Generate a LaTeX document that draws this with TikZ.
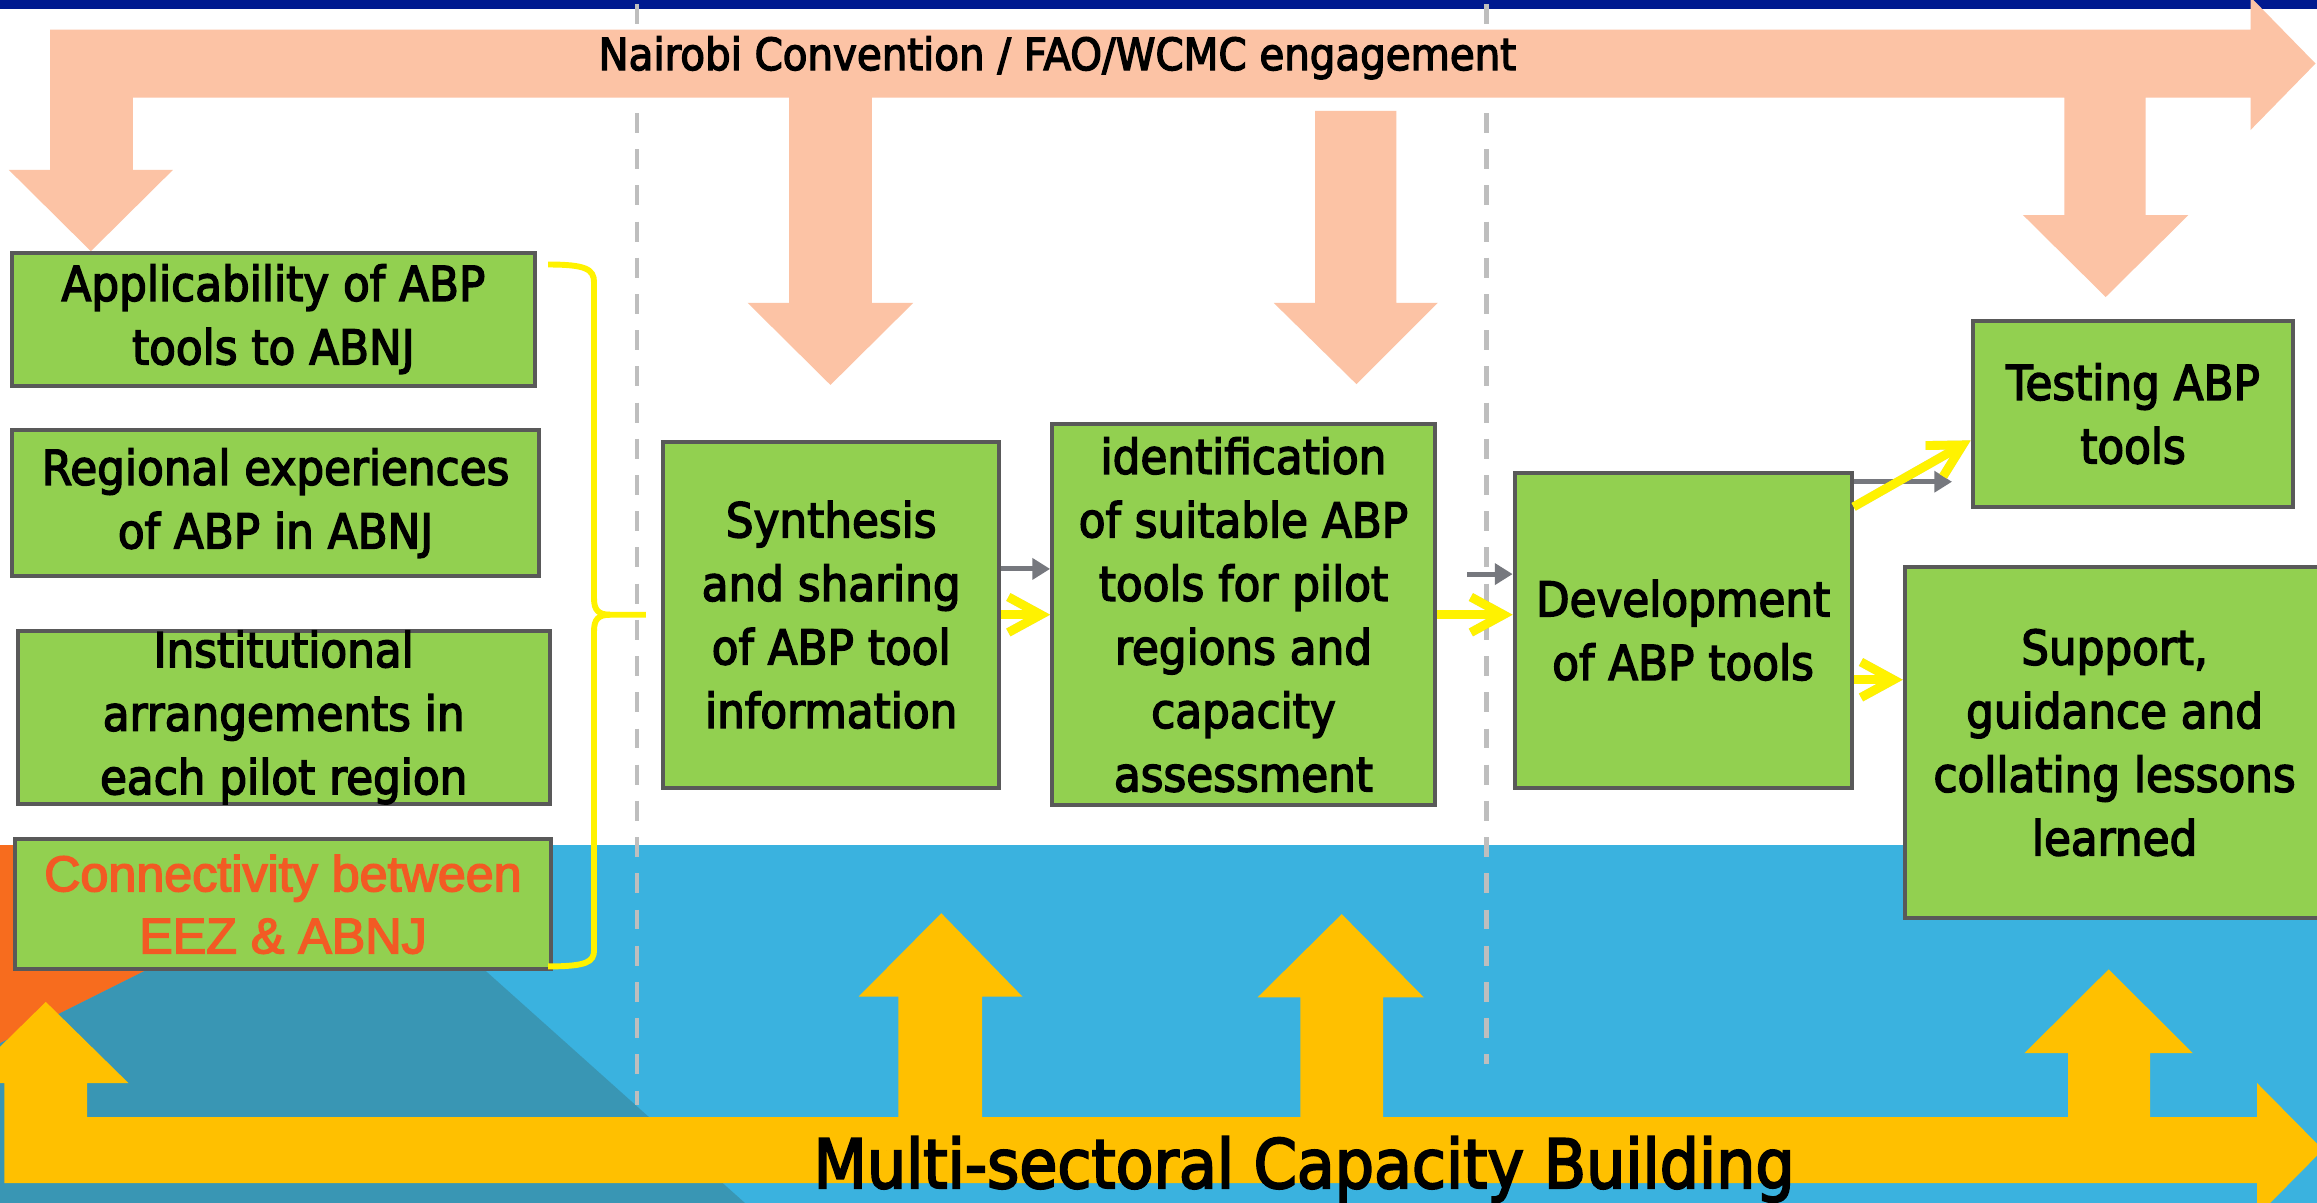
\documentclass[tikz,border=0pt]{standalone}
\usepackage{fontspec}
\setmainfont{DejaVu Sans}[FakeStretch=0.91, FakeBold=3]
\newfontfamily\connfont{Liberation Sans}[FakeBold=3]
\usetikzlibrary{arrows.meta}
\definecolor{navy}{RGB}{0,26,143}
\definecolor{bandblue}{RGB}{58,178,223}
\definecolor{bandteal}{RGB}{57,150,180}
\definecolor{bandorange}{RGB}{247,108,30}
\definecolor{salmon}{RGB}{252,195,165}
\definecolor{gold}{RGB}{255,192,0}
\definecolor{boxgreen}{RGB}{146,208,80}
\definecolor{boxedge}{RGB}{89,89,89}
\definecolor{flowgray}{RGB}{118,120,126}
\definecolor{guide}{RGB}{190,190,190}
\definecolor{connred}{RGB}{242,90,36}

\begin{document}
\begin{tikzpicture}[x=0.5pt,y=-0.5pt,
  stage/.style={draw=boxedge, line width=1.35pt, fill=boxgreen, inner sep=0pt,
    align=center, font=\fontsize{16.25}{21.5}\selectfont},
  yarrow/.style={draw=yellow, line width=3pt, -{Straight Barb[length=11pt,width=12pt]}},
  yshade/.style={draw=black, opacity=0.15, line width=3pt,
    -{Straight Barb[length=11pt,width=12pt]}, shift={(1.6,2.4)}},
  garrow/.style={draw=flowgray, line width=1.7pt, -{Triangle[length=6pt,width=7pt]}},
  guideline/.style={draw=guide, line width=1.6pt, dash pattern=on 6.75pt off 5.5pt},
  bracket/.style={draw=yellow, line width=2pt},
]
\clip (0,0) rectangle (1568,814);
\fill[white] (0,0) rectangle (1568,814);

% top rule and the coloured band behind the lower part
\fill[navy] (0,0) rectangle (1568,6);
\fill[bandblue] (0,572) rectangle (1568,814);
\fill[bandorange] (0,572) -- (268,572) -- (0,706) -- cycle;
\fill[bandteal] (246,583) -- (504,814) -- (0,814) -- (0,706) -- cycle;

% phase separators
\draw[guideline] (431,3) -- (431,748);
\draw[guideline] (1006,3) -- (1006,720);

% engagement arrow along the top
\fill[salmon] (34,20) -- (1523,20) -- (1523,-2) -- (1567,43) -- (1523,88) -- (1523,66)
  -- (1452,66) -- (1452,145.5) -- (1481,145.5) -- (1425,201) -- (1369,145.5) -- (1397,145.5)
  -- (1397,66) -- (590,66) -- (590,205) -- (618,205) -- (562,260.5) -- (506,205) -- (534,205)
  -- (534,66) -- (90,66) -- (90,115) -- (117,115) -- (61.5,170) -- (6,115) -- (34,115) -- cycle;
\fill[salmon] (890,75) -- (945,75) -- (945,205) -- (973,205) -- (918,260) -- (862,205)
  -- (890,205) -- cycle;

% capacity building arrow along the bottom
\fill[gold] (3,800.6) -- (3,733) -- (-25,733) -- (31,678) -- (87,733) -- (59,733) -- (59,756)
  -- (608,756) -- (608,674.5) -- (581,674.5) -- (637,618) -- (692,674.5) -- (664.6,674.5)
  -- (664.6,756) -- (880,756) -- (880,675) -- (851,675) -- (908,618.6) -- (963.6,675)
  -- (936,675) -- (936,756) -- (1399.5,756) -- (1399.5,712.7) -- (1370,712.7) -- (1427,656)
  -- (1484,712.7) -- (1455,712.7) -- (1455,756) -- (1527.5,756) -- (1527.5,733)
  -- (1572,778) -- (1527.5,823) -- (1527.5,800.6) -- cycle;

\node[font=\fontsize{15}{18}\selectfont, anchor=base] (engage) at (715.5,47.4)
  {Nairobi Convention / FAO/WCMC engagement};
\node[font=\fontsize{23}{27}\selectfont, anchor=base] (capacity) at (882.5,804)
  {Multi-sectoral Capacity Building};

% input boxes
\node[stage, minimum width=177pt, minimum height=45pt] (b1) at (185,216)
  {Applicability of ABP\\tools to ABNJ};
\node[stage, minimum width=178.5pt, minimum height=49.5pt] (b2) at (186.5,340.5)
  {Regional experiences\\of ABP in ABNJ};
\node[stage, minimum width=180pt, minimum height=58.5pt] (b3) at (192,485.5)
  {Institutional\\arrangements in\\each pilot region};
\node[stage, minimum width=181.5pt, minimum height=44pt, text=connred,
  font=\connfont\fontsize{17}{21}\selectfont] (b4) at (191.5,612)
  {Connectivity between\\EEZ \& ABNJ};

% process boxes
\node[stage, minimum width=113.5pt, minimum height=117pt] (b5) at (562.5,416)
  {Synthesis\\and sharing\\of ABP tool\\information};
\node[stage, minimum width=129.5pt, minimum height=129pt] (b6) at (841.5,416)
  {identification\\of suitable ABP\\tools for pilot\\regions and\\capacity\\assessment};
\node[stage, minimum width=114pt, minimum height=106.5pt] (b7) at (1139,426.5)
  {Development\\of ABP tools};
\node[stage, minimum width=108.5pt, minimum height=63pt] (b8) at (1443.5,280)
  {Testing ABP\\tools};
\node[stage, minimum width=142pt, minimum height=118.5pt] (b9) at (1431,502.5)
  {Support,\\guidance and\\collating lessons\\learned};

% bracket gathering the inputs
\coordinate (brtop) at (371,179);
\coordinate (brtip) at (437,416);
\coordinate (brbot) at (371,654);
\draw[bracket] (brtop) .. controls (396,179) and (402,182) .. (402,191) -- (402,405)
  .. controls (402,413) and (405,416) .. (413,416) -- (brtip);
\draw[bracket] (413,416) .. controls (405,416) and (402,419) .. (402,427) -- (402,643)
  .. controls (402,651) and (397,654) .. (brbot);

% flow connectors
\coordinate (l385) at (0,385);
\coordinate (g2s) at (993,388.5);
\coordinate (g3e) at (1321,326);
\coordinate (l343) at (0,343);
\coordinate (l298) at (0,298);
\coordinate (l460) at (0,460);

\draw[garrow] (b5.east |- l385) -- (b6.west |- l385);
\draw[garrow] (g2s) -- (b7.west |- g2s);
\draw[garrow] (b7.east |- g3e) -- (g3e);

\draw[yshade] (b5.east) -- (b6.west);
\draw[yshade] (b6.east) -- (b6.east -| b7.west);
\draw[yshade] (b7.east |- l343) -- (b8.west |- l298);
\draw[yshade] (b7.east |- l460) -- (b9.west |- l460);

\draw[yarrow] (b5.east) -- (b6.west);
\draw[yarrow] (b6.east) -- (b6.east -| b7.west);
\draw[yarrow] (b7.east |- l343) -- (b8.west |- l298);
\draw[yarrow] (b7.east |- l460) -- (b9.west |- l460);
\end{tikzpicture}
\end{document}
